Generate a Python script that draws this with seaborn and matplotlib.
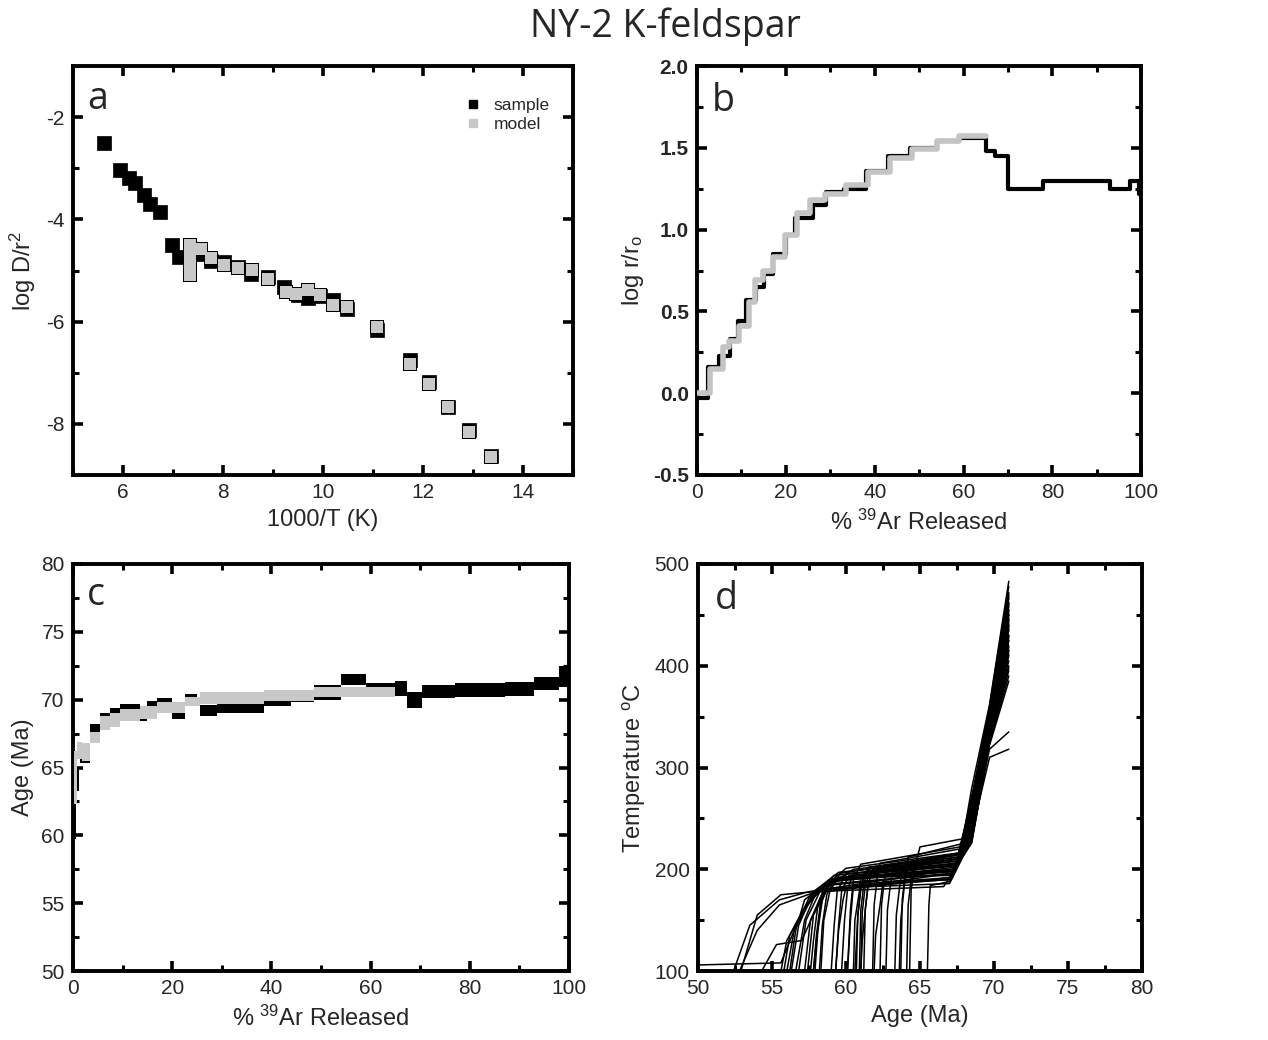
import numpy as np
import pandas as pd
import seaborn as sns
import matplotlib.pyplot as plt
from matplotlib.lines import Line2D
from matplotlib.ticker import MultipleLocator

sns.set_style("ticks")
plt.rcParams['font.family'] = ['Liberation Sans', 'DejaVu Sans']
plt.rcParams['mathtext.fontset'] = 'custom'
plt.rcParams['mathtext.rm'] = 'Liberation Sans'
plt.rcParams['mathtext.it'] = 'Liberation Sans'
plt.rcParams['axes.unicode_minus'] = False

# --- panel a: Arrhenius plot ---
a_sample_x = [5.62, 5.95, 6.13, 6.25, 6.42, 6.55, 6.75, 6.99, 7.12, 7.52, 7.76, 8.03, 8.30, 8.56,
              8.90, 9.23, 9.50, 9.70, 9.94, 10.21, 10.48, 11.08, 11.75, 12.12, 12.50, 12.93, 13.36]
a_sample_y = [-2.50, -3.03, -3.20, -3.29, -3.52, -3.69, -3.85, -4.50, -4.73, -4.67, -4.82, -4.83, -4.93,
              -5.06, -5.12, -5.32, -5.47, -5.54, -5.50, -5.58, -5.76, -6.17, -6.76, -7.18, -7.67, -8.13, -8.62]
a_model_x = [7.35, 7.35, 7.35, 7.35, 7.56, 7.76, 8.03, 8.30, 8.58, 8.90, 9.27, 9.47, 9.70, 9.94,
             10.21, 10.48, 11.08, 11.75, 12.12, 12.50, 12.93, 13.36]
a_model_y = [-4.50, -4.70, -4.90, -5.09, -4.57, -4.76, -4.90, -4.96, -4.99, -5.16, -5.42, -5.45, -5.39,
             -5.48, -5.68, -5.71, -6.10, -6.82, -7.22, -7.67, -8.16, -8.65]

# --- panel b: log r/ro steps ---
b_sample_edges = [0, 2.5, 5, 7.5, 9.3, 11.1, 13.3, 15, 17, 20, 22, 26, 29, 33, 38, 43, 48, 54, 59,
                  65, 67, 70, 78, 87, 93, 97.5, 99.5, 100]
b_sample_vals = [-0.03, 0.16, 0.23, 0.33, 0.44, 0.57, 0.65, 0.73, 0.85, 0.97, 1.07, 1.15, 1.23, 1.25,
                 1.36, 1.45, 1.50, 1.54, 1.56, 1.48, 1.45, 1.25, 1.30, 1.30, 1.25, 1.30, 1.22]
b_model_edges = [0, 3, 5.8, 7.3, 9.5, 11.8, 13, 14.8, 17, 19.8, 22.5, 25.5, 28.8, 33.5, 38.5, 43.5,
                 48.5, 54, 59, 65]
b_model_vals = [0.0, 0.15, 0.28, 0.32, 0.41, 0.56, 0.69, 0.75, 0.83, 0.97, 1.10, 1.18, 1.22, 1.27,
                1.35, 1.44, 1.49, 1.54, 1.57]

# --- panel c: age spectrum boxes ---
c_sample_left = [0, 0.6, 1.5, 3.5, 5.5, 7.5, 9.5, 13.5, 15, 17, 20, 22.5, 25.5, 29, 38.5, 44, 48.5,
                 54, 59, 65, 67.3, 70.3, 77, 87, 93, 98]
c_sample_right = [0.6, 1.2, 3.5, 5.5, 7.5, 9.5, 13.5, 15, 17, 20, 22.5, 25, 29, 38.5, 44, 48.5, 54,
                  59, 65, 67.3, 70.3, 77, 87, 93, 98, 100]
c_sample_low = [59.7, 63.3, 65.3, 67.3, 68.7, 68.9, 69.3, 68.4, 69.5, 69.7, 68.6, 70.1, 68.8, 69.0,
                69.5, 69.8, 70.0, 71.1, 70.2, 70.3, 69.4, 70.1, 70.2, 70.3, 70.7, 70.9]
c_sample_high = [63.0, 64.9, 65.8, 68.2, 69.0, 69.4, 69.7, 68.6, 69.9, 70.1, 69.0, 70.4, 69.6, 69.8,
                 70.2, 70.6, 71.1, 71.9, 71.2, 71.4, 70.6, 71.1, 71.2, 71.3, 71.7, 72.5]
c_model_left = [0.2, 0.8, 1.8, 3.5, 5.5, 7.5, 9.5, 13.5, 17, 22.5, 25.5, 38.5, 48.5]
c_model_right = [0.8, 1.8, 3.5, 5.5, 7.5, 9.5, 13.5, 17, 22.5, 25.5, 38.5, 48.5, 65]
c_model_low = [62.3, 65.6, 65.5, 66.8, 67.8, 68.0, 68.4, 68.6, 69.0, 69.5, 69.7, 69.9, 70.2]
c_model_high = [66.2, 66.9, 66.8, 67.6, 68.8, 69.0, 69.3, 69.5, 69.8, 70.2, 70.6, 70.7, 70.95]

# --- panel d: thermal histories (node ages / temperatures per curve) ---
d_T71 = [478, 462, 450, 440, 430, 445, 420, 410, 455, 425, 415, 405, 398,
         468, 452, 436, 415, 445, 430, 458, 440, 472, 425,
         466, 450, 435, 418, 460, 442, 470, 455, 438, 428, 462, 447, 412, 483,
         395, 400, 335, 318, 390, 385]
d_Tbend = [360, 352, 346, 340, 336, 348, 334, 330, 356, 338, 332, 328, 326,
           354, 346, 342, 332, 350, 340, 352, 342, 358, 336,
           356, 348, 341, 334, 352, 344, 358, 350, 342, 338, 356, 348, 332, 362,
           326, 328, 318, 310, 324, 322]
d_T685 = [262, 255, 250, 244, 240, 252, 236, 232, 266, 242, 236, 230, 228,
          258, 250, 246, 236, 256, 244, 260, 248, 270, 240,
          262, 254, 246, 238, 258, 250, 268, 260, 250, 244, 272, 262, 238, 280,
          226, 232, 240, 236, 230, 228]
d_knee_age = [67.6, 67.5, 67.4, 67.3, 67.4, 67.5, 67.2, 67.2, 67.6, 67.3, 67.2, 67.1, 67.0,
              67.5, 67.4, 67.3, 67.2, 67.6, 67.4, 67.5, 67.4, 67.7, 67.3,
              67.6, 67.5, 67.4, 67.3, 67.6, 67.5, 67.7, 67.6, 67.5, 67.4, 67.8, 67.6, 67.3, 67.9,
              66.6, 67.0, 67.2, 67.1, 67.0, 66.9]
d_knee_T = [216, 210, 206, 200, 198, 205, 196, 194, 212, 200, 196, 192, 190,
            210, 205, 200, 196, 214, 202, 208, 203, 222, 198,
            215, 210, 204, 198, 212, 206, 220, 214, 208, 204, 225, 216, 200, 230,
            183, 188, 192, 190, 186, 190]
d_plat_age = [60.0, 59.5, 59.2, 59.0, 58.8, 60.2, 58.5, 59.8, 60.5, 57.5, 57.8, 58.5, 58.0,
              59.0, 58.8, 59.3, 58.6, 59.6, 58.9, 60.5, 60.2, 61.0, 59.8,
              61.5, 61.3, 61.6, 61.0, 61.8, 61.2, 62.3, 62.8, 63.2, 63.8, 64.2, 64.6, 64.0, 65.0,
              57.8, 65.7, 61.5, 60.5, 60.0, 62.5]
d_plat_T = [201, 197, 194, 190, 188, 196, 185, 192, 200, 178, 177, 178, 180,
            190, 187, 192, 184, 196, 188, 196, 194, 205, 190,
            202, 198, 196, 192, 200, 195, 206, 204, 202, 200, 212, 208, 195, 222,
            178, 184, 186, 184, 182, 188]
d_sh1_age = [58.3, 57.8, 57.5, 57.3, 57.1, 58.0, 57.2, 58.5, 58.9, 55.5, 55.5, 57.0, 56.5,
             58.4, 58.3, 58.7, 58.1, 58.9, 58.3, 60.1, 59.7, 60.5, 59.4,
             61.2, 61.0, 61.3, 60.9, 61.5, 61.0, 62.1, 62.6, 63.0, 63.6, 64.0, 64.4, 63.9, 64.7,
             55.6, 65.6, 61.3, 60.3, 59.8, 62.3]
d_sh1_T = [180, 178, 172, 165, 160, 178, 170, 180, 185, 170, 165, 130, 140,
           170, 165, 175, 165, 178, 170, 180, 178, 190, 178,
           185, 182, 184, 178, 185, 180, 190, 190, 185, 180, 195, 190, 178, 205,
           175, 165, 160, 150, 170, 165]
d_sh2_age = [57.3, 56.8, 56.5, 56.2, 56.0, 57.2, 56.6, 57.6, 57.8, 53.5, 54.0, 55.3, 55.6,
             58.1, 58.0, 58.4, 57.8, 58.5, 58.0, 59.9, 59.5, 60.3, 59.2,
             61.0, 60.8, 61.1, 60.6, 61.3, 60.8, 61.9, 62.4, 62.8, 63.4, 63.8, 64.2, 63.7, 64.4,
             54.0, 65.55, 61.1, 60.2, 59.5, 62.0]
d_sh2_T = [150, 145, 140, 135, 130, 150, 140, 150, 155, 145, 140, 126, 108,
           140, 130, 145, 130, 150, 135, 150, 145, 160, 145,
           160, 155, 158, 150, 160, 155, 165, 165, 160, 155, 170, 165, 150, 180,
           155, 130, 130, 125, 140, 135]
d_floor_age = [56.8, 56.3, 56.0, 55.8, 55.6, 56.6, 56.2, 57.2, 57.4, 52.4, 52.8, 54.3, 50.0,
               57.9, 57.8, 58.2, 57.6, 58.3, 57.8, 59.7, 59.3, 60.1, 59.0,
               60.9, 60.6, 61.0, 60.5, 61.2, 60.7, 61.8, 62.3, 62.7, 63.3, 63.7, 64.1, 63.6, 64.3,
               52.9, 65.5, 61.0, 60.1, 59.3, 61.9]
d_floor_T = [100] * 12 + [106] + [100] * 30

fig = plt.figure(figsize=(12.68, 10.4), dpi=100)
ax_a = fig.add_axes([0.0576, 0.5433, 0.394, 0.3932])
ax_b = fig.add_axes([0.5497, 0.5433, 0.3503, 0.3932])
ax_c = fig.add_axes([0.0576, 0.0663, 0.3912, 0.3914])
ax_d = fig.add_axes([0.5505, 0.0663, 0.3501, 0.3914])


def style_axes(ax, xmaj, xmin, ymaj, ymin):
    for s in ax.spines.values():
        s.set_linewidth(2.8)
        s.set_color('black')
    ax.xaxis.set_major_locator(MultipleLocator(xmaj))
    ax.xaxis.set_minor_locator(MultipleLocator(xmin))
    ax.yaxis.set_major_locator(MultipleLocator(ymaj))
    ax.yaxis.set_minor_locator(MultipleLocator(ymin))
    ax.tick_params(which='both', direction='in', top=True, right=True, color='black')
    ax.tick_params(which='major', length=7, width=2.6, labelsize=15, pad=6)
    ax.tick_params(which='minor', length=4, width=2.2)


# a
sns.scatterplot(x=a_sample_x, y=a_sample_y, marker='s', s=92, color='black', edgecolor='black',
                linewidth=0.5, ax=ax_a, zorder=3)
# model: black outline layer then grey fill, so touching squares merge
sns.scatterplot(x=a_model_x, y=a_model_y, marker='s', s=112, color='black', linewidth=0,
                ax=ax_a, zorder=4)
sns.scatterplot(x=a_model_x, y=a_model_y, marker='s', s=80, color='#c8c8c8', linewidth=0,
                ax=ax_a, zorder=5)
ax_a.set_xlim(5, 15)
ax_a.set_ylim(-9, -1)
style_axes(ax_a, 2, 1, 2, 1)
ax_a.set_xlabel('1000/T (K)', fontsize=17, labelpad=5)
ax_a.set_ylabel('log D/r$^2$', fontsize=17, labelpad=6)
handles = [Line2D([], [], marker='s', ls='', color='black', markersize=6),
           Line2D([], [], marker='s', ls='', color='#c8c8c8', markersize=6)]
ax_a.legend(handles, ['sample', 'model'], loc='upper left', bbox_to_anchor=(0.765, 0.94),
            frameon=False, fontsize=12.5, handletextpad=0.6, labelspacing=0.25, borderaxespad=0,
            handlelength=1.2)

# b
sns.lineplot(x=b_sample_edges, y=b_sample_vals + [b_sample_vals[-1]], drawstyle='steps-post',
             color='black', lw=3.0, estimator=None, sort=False, ax=ax_b, zorder=3)
sns.lineplot(x=b_model_edges, y=b_model_vals + [b_model_vals[-1]], drawstyle='steps-post',
             color='#c4c4c4', lw=4.0, estimator=None, sort=False, ax=ax_b, zorder=4)
ax_b.set_xlim(0, 100)
ax_b.set_ylim(-0.5, 2.0)
style_axes(ax_b, 20, 10, 0.5, 0.25)
ax_b.yaxis.set_major_formatter(plt.FormatStrFormatter('%.1f'))
for t in ax_b.get_yticklabels():
    t.set_fontweight('bold')
ax_b.set_xlabel('% $^{39}$Ar Released', fontsize=17, labelpad=5)
ax_b.set_ylabel('log r/r$_\\mathrm{o}$', fontsize=17, labelpad=5)

# c
ax_c.bar(c_sample_left, np.subtract(c_sample_high, c_sample_low),
         width=np.subtract(c_sample_right, c_sample_left), bottom=c_sample_low,
         align='edge', color='black', linewidth=0, zorder=3)
ax_c.bar(c_model_left, np.subtract(c_model_high, c_model_low),
         width=np.subtract(c_model_right, c_model_left), bottom=c_model_low,
         align='edge', color='#c8c8c8', linewidth=0, zorder=4)
ax_c.set_xlim(0, 100)
ax_c.set_ylim(50, 80)
style_axes(ax_c, 20, 10, 5, 2.5)
ax_c.set_xlabel('% $^{39}$Ar Released', fontsize=17, labelpad=5)
ax_c.set_ylabel('Age (Ma)', fontsize=17, labelpad=5)

# d
rows = []
for i in range(len(d_T71)):
    ages = [71, 69.7, 68.5, d_knee_age[i], d_plat_age[i], d_sh1_age[i], d_sh2_age[i], d_floor_age[i]]
    temps = [d_T71[i], d_Tbend[i], d_T685[i], d_knee_T[i], d_plat_T[i], d_sh1_T[i], d_sh2_T[i],
             d_floor_T[i]]
    for a, t in zip(ages, temps):
        rows.append({'curve': i, 'age': a, 'T': t})
df_d = pd.DataFrame(rows)
sns.lineplot(data=df_d, x='age', y='T', units='curve', estimator=None, sort=False,
             color='black', lw=1.1, ax=ax_d, zorder=3)
ax_d.set_xlim(50, 80)
ax_d.set_ylim(100, 500)
style_axes(ax_d, 5, 2.5, 100, 50)
ax_d.set_xlabel('Age (Ma)', fontsize=17, labelpad=5)
ax_d.set_ylabel('Temperature $^\\mathrm{o}$C', fontsize=17, labelpad=5)

for ax, letter, x0, y0 in [(ax_a, 'a', 0.028, 0.895), (ax_b, 'b', 0.034, 0.89),
                           (ax_c, 'c', 0.028, 0.90), (ax_d, 'd', 0.038, 0.89)]:
    ax.text(x0, y0, letter, transform=ax.transAxes, fontsize=27, family=['Open Sans', 'DejaVu Sans'],
            va='baseline', ha='left')

fig.text(0.525, 0.974, 'NY-2 K-feldspar', ha='center', va='center', fontsize=27,
         family=['Open Sans', 'DejaVu Sans'])

fig.savefig('out.png', dpi=100)
